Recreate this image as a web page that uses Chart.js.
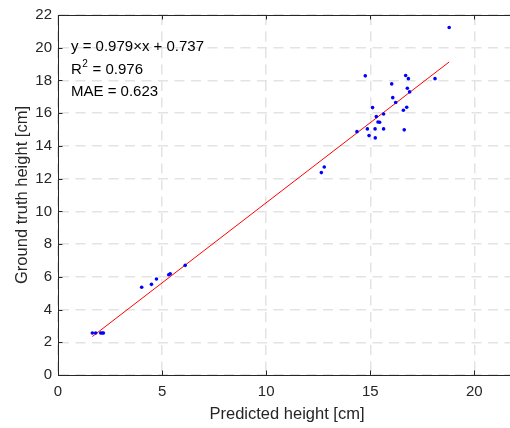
<!DOCTYPE html>
<html>
<head>
<meta charset="utf-8">
<script src="https://cdn.jsdelivr.net/npm/chart.js@4"></script>
<style>
  html, body { margin: 0; padding: 0; background: #fff; overflow: hidden; }
  #wrap { width: 530px; height: 428px; }
</style>
</head>
<body>
<div id="wrap"><canvas id="grafico" width="530" height="428"></canvas></div>
<script>
// === DATI ===
const predetto = [18.79, 14.76, 16.70, 16.83, 18.11, 16.03, 16.78, 16.89, 16.08, 16.22,
                  15.11, 16.75, 16.59, 15.64, 15.29, 15.37, 15.45, 14.36, 14.86, 15.23,
                  15.64, 16.63, 14.94, 15.24, 12.79, 12.65, 6.11, 5.32, 5.39, 4.73,
                  4.49, 4.02, 1.65, 1.81, 2.05, 2.12, 2.18];
const reale = [21.24, 18.28, 18.30, 18.11, 18.11, 17.79, 17.52, 17.30, 16.95, 16.65,
               16.34, 16.36, 16.18, 15.95, 15.79, 15.46, 15.45, 14.87, 15.04, 15.04,
               15.04, 14.98, 14.63, 14.49, 12.71, 12.37, 6.70, 6.13, 6.19, 5.87,
               5.54, 5.36, 2.57, 2.57, 2.57, 2.57, 2.57];
// retta di regressione (estremi)
const rettaX = [1.65, 18.79];
const rettaY = [2.35, 19.13];
const testi = ['y = 0.979\u00d7x + 0.737', '0.976', 'MAE = 0.623'];
const ticksX = [0, 5, 10, 15, 20];
const ticksY = [0, 2, 4, 6, 8, 10, 12, 14, 16, 18, 20, 22];

const COL_ASSE = '#262626';
const FONT = '"Liberation Sans", Arial, sans-serif';

// === PLUGIN: cornice, tacche interne e testo ===
const extra = {
  id: 'extra',
  afterDraw(chart) {
    const c = chart.ctx;
    const a = chart.chartArea;
    const sx = chart.scales.x, sy = chart.scales.y;
    c.save();
    c.strokeStyle = COL_ASSE;
    c.lineWidth = 1;
    c.beginPath();
    c.moveTo(a.left, a.top + 0.5);
    c.lineTo(a.right, a.top + 0.5);
    ticksX.forEach(v => {
      const px = Math.round(sx.getPixelForValue(v)) + 0.5;
      c.moveTo(px, a.bottom); c.lineTo(px, a.bottom - 4.5);
      c.moveTo(px, a.top); c.lineTo(px, a.top + 4.5);
    });
    ticksY.forEach(v => {
      const py = Math.round(sy.getPixelForValue(v)) + 0.5;
      c.moveTo(a.left, py); c.lineTo(a.left + 4.5, py);
    });
    c.stroke();

    c.fillStyle = '#000';
    c.textBaseline = 'middle';
    c.textAlign = 'left';
    c.font = '15px ' + FONT;
    c.fillText(testi[0], 71, 47);
    c.fillText('R', 71, 70);
    const wR = c.measureText('R').width;
    c.font = '10px ' + FONT;
    c.fillText('2', 71 + wR + 0.5, 64);
    const w2 = c.measureText('2').width;
    c.font = '15px ' + FONT;
    c.fillText(' = ' + testi[1], 71 + wR + w2 + 1, 70);
    c.fillText(testi[2], 71, 92);
    c.restore();
  }
};

// === GRAFICO ===
const ctx = document.getElementById('grafico').getContext('2d');
const chart = new Chart(ctx, {
  type: 'scatter',
  data: {
    datasets: [
      {
        label: 'Dati',
        data: predetto.map((x, i) => ({ x: x, y: reale[i] })),
        backgroundColor: '#0000ff',
        borderColor: '#0000ff',
        pointRadius: 1.8,
        pointBorderWidth: 0,
        order: 1
      },
      {
        label: 'Regressione',
        type: 'line',
        data: rettaX.map((x, i) => ({ x: x, y: rettaY[i] })),
        borderColor: '#ff0000',
        borderWidth: 1,
        pointRadius: 0,
        fill: false,
        order: 2
      }
    ]
  },
  options: {
    responsive: false,
    animation: false,
    layout: { padding: { left: 0, top: 15, right: 14, bottom: 0 } },
    plugins: {
      legend: { display: false },
      tooltip: { enabled: false }
    },
    scales: {
      x: {
        type: 'linear',
        min: 0,
        max: 22,
        afterFit(s) { s.height = 53; },
        afterBuildTicks(s) { s.ticks = ticksX.map(v => ({ value: v })); },
        ticks: {
          stepSize: 5,
          includeBounds: false,
          padding: 8,
          color: COL_ASSE,
          font: { family: FONT, size: 15 }
        },
        grid: {
          color: '#e3e3e3',
          lineWidth: 1.5,
          drawTicks: false
        },
        border: { display: true, color: COL_ASSE, width: 1, dash: [10, 6.5] },
        title: {
          display: true,
          text: 'Predicted height [cm]',
          color: COL_ASSE,
          font: { family: FONT, size: 16.5 },
          padding: { top: 0, bottom: 4 }
        }
      },
      y: {
        type: 'linear',
        min: 0,
        max: 22,
        afterFit(s) { s.width = 58; },
        afterBuildTicks(s) { s.ticks = ticksY.map(v => ({ value: v })); },
        ticks: {
          stepSize: 2,
          padding: 6,
          color: COL_ASSE,
          font: { family: FONT, size: 15 }
        },
        grid: {
          color: '#e3e3e3',
          lineWidth: 1.5,
          drawTicks: false
        },
        border: { display: true, color: COL_ASSE, width: 1, dash: [10, 6.5] },
        title: {
          display: true,
          text: 'Ground truth height [cm]',
          color: COL_ASSE,
          font: { family: FONT, size: 16.5 },
          padding: { top: 12.7, bottom: 0 }
        }
      }
    }
  },
  plugins: [extra]
});
</script>
</body>
</html>
